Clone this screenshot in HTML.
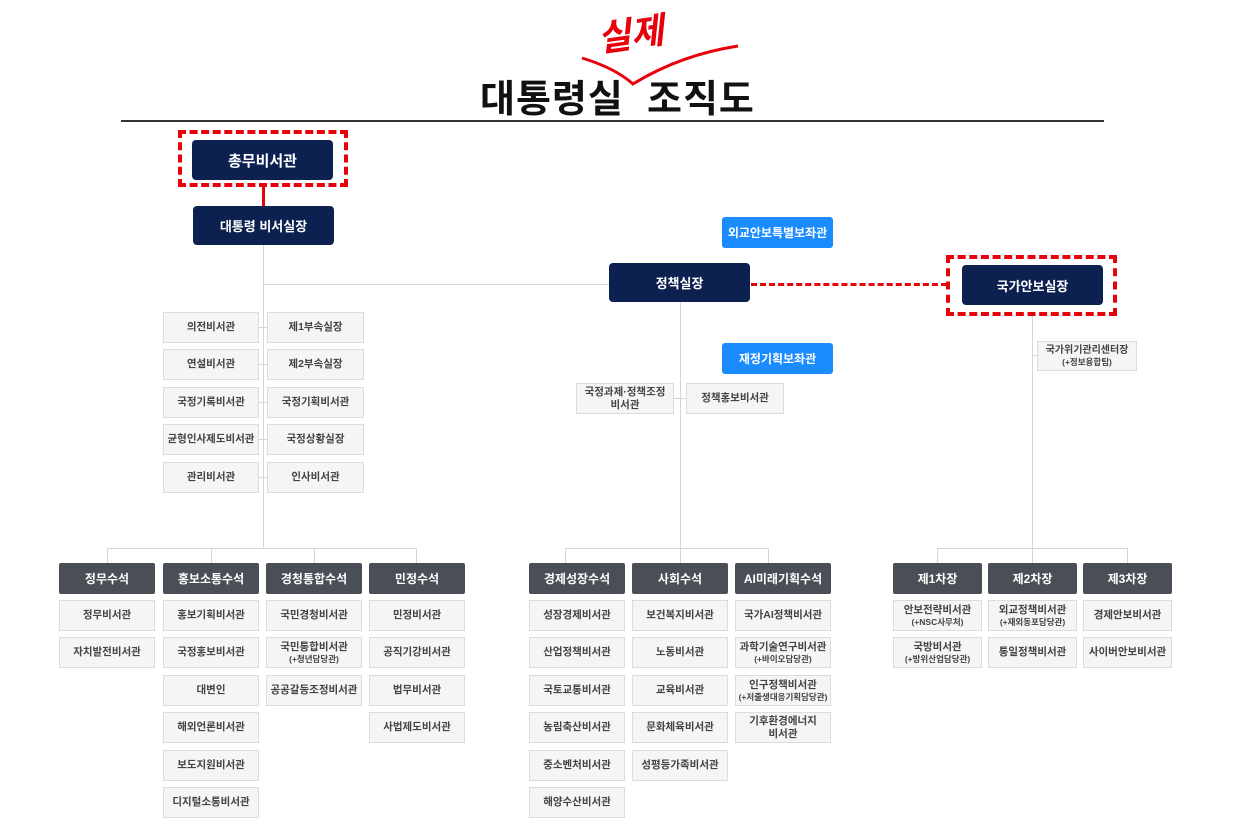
<!DOCTYPE html>
<html><head><meta charset="utf-8">
<style>
body{margin:0;width:1233px;height:827px;background:#fff;position:relative;overflow:hidden;font-family:"Liberation Sans","Noto Sans CJK KR",sans-serif}
div{position:absolute;box-sizing:border-box}
.n{background:#0d2150;color:#fff;font-weight:bold;border-radius:4px;display:flex;align-items:center;justify-content:center;font-size:13px}
.b{background:#1a8cff;color:#fff;font-weight:bold;border-radius:3px;display:flex;align-items:center;justify-content:center;font-size:12px}
.h{background:#4a4f57;color:#fff;font-weight:bold;border-radius:2px;display:flex;align-items:center;justify-content:center;font-size:12px;height:31px}
.c{background:#f5f5f5;border:1px solid #dcdcdc;color:#444;font-weight:bold;display:flex;align-items:center;justify-content:center;text-align:center;font-size:10.5px;line-height:13px;height:31px}
.c span{display:block}
.c small{font-size:8.5px;display:block;line-height:11px}
.l{background:#d6d6d6}
.rd{border:4px dashed #e8000b}
</style></head><body>
<!-- title -->
<div style="left:480px;top:68px;font-size:38px;font-weight:bold;color:#111;letter-spacing:1px">대통령실</div>
<div style="left:647px;top:68px;font-size:38px;font-weight:bold;color:#111;letter-spacing:1px">조직도</div>
<div style="left:597px;top:6px;font-size:36px;font-weight:bold;font-style:italic;color:#e8000b;transform:rotate(-8deg)">실제</div>
<svg style="position:absolute;left:0;top:0" width="1233" height="130"><path d="M582 58 Q615 68 633 84 Q680 55 738 46" stroke="#e8000b" stroke-width="3" fill="none"/></svg>
<div style="left:121px;top:120px;width:983px;height:2px;background:#333"></div>

<!-- lines -->
<div class="l" style="left:263px;top:245px;width:1px;height:304px"></div>
<div style="left:262px;top:186px;width:3px;height:20px;background:#e8000b"></div>
<div class="l" style="left:263px;top:284px;width:346px;height:1px"></div>
<div style="left:751px;top:283px;width:196px;height:0;border-top:3px dashed #e8000b"></div>
<div class="l" style="left:680px;top:302px;width:1px;height:246px"></div>
<div class="l" style="left:1032px;top:316px;width:1px;height:232px"></div>
<div class="l" style="left:1032px;top:355px;width:6px;height:1px"></div>
<div class="l" style="left:674px;top:398px;width:12px;height:1px"></div>
<div class="l" style="left:259px;top:327px;width:8px;height:1px"></div>
<div class="l" style="left:259px;top:364px;width:8px;height:1px"></div>
<div class="l" style="left:259px;top:402px;width:8px;height:1px"></div>
<div class="l" style="left:259px;top:439px;width:8px;height:1px"></div>
<div class="l" style="left:259px;top:477px;width:8px;height:1px"></div>
<!-- bottom branches -->
<div class="l" style="left:107px;top:548px;width:310px;height:1px"></div>
<div class="l" style="left:107px;top:548px;width:1px;height:15px"></div>
<div class="l" style="left:211px;top:548px;width:1px;height:15px"></div>
<div class="l" style="left:314px;top:548px;width:1px;height:15px"></div>
<div class="l" style="left:416px;top:548px;width:1px;height:15px"></div>
<div class="l" style="left:565px;top:548px;width:204px;height:1px"></div>
<div class="l" style="left:565px;top:548px;width:1px;height:15px"></div>
<div class="l" style="left:680px;top:548px;width:1px;height:15px"></div>
<div class="l" style="left:768px;top:548px;width:1px;height:15px"></div>
<div class="l" style="left:937px;top:548px;width:191px;height:1px"></div>
<div class="l" style="left:937px;top:548px;width:1px;height:15px"></div>
<div class="l" style="left:1032px;top:548px;width:1px;height:15px"></div>
<div class="l" style="left:1127px;top:548px;width:1px;height:15px"></div>

<!-- top nodes -->
<div class="rd" style="left:178px;top:130px;width:170px;height:57px"></div>
<div class="n" style="left:192px;top:140px;width:141px;height:40px;font-size:15px">총무비서관</div>
<div class="n" style="left:193px;top:206px;width:141px;height:39px">대통령 비서실장</div>
<div class="n" style="left:609px;top:263px;width:141px;height:39px">정책실장</div>
<div class="rd" style="left:946px;top:255px;width:171px;height:61px"></div>
<div class="n" style="left:962px;top:265px;width:141px;height:40px">국가안보실장</div>
<div class="b" style="left:722px;top:217px;width:111px;height:31px">외교안보특별보좌관</div>
<div class="b" style="left:722px;top:343px;width:111px;height:31px">재정기획보좌관</div>
<div class="c" style="left:576px;top:383px;width:98px;height:31px"><span>국정과제·정책조정<br>비서관</span></div>
<div class="c" style="left:686px;top:383px;width:98px;height:31px">정책홍보비서관</div>
<div class="c" style="left:1037px;top:341px;width:100px;height:30px;font-size:10px"><span>국가위기관리센터장<small>(+정보융합팀)</small></span></div>

<!-- left grid -->
<div class="c" style="left:163px;top:312px;width:96px">의전비서관</div>
<div class="c" style="left:267px;top:312px;width:97px">제1부속실장</div>
<div class="c" style="left:163px;top:349px;width:96px">연설비서관</div>
<div class="c" style="left:267px;top:349px;width:97px">제2부속실장</div>
<div class="c" style="left:163px;top:387px;width:96px">국정기록비서관</div>
<div class="c" style="left:267px;top:387px;width:97px">국정기획비서관</div>
<div class="c" style="left:163px;top:424px;width:96px">균형인사제도비서관</div>
<div class="c" style="left:267px;top:424px;width:97px">국정상황실장</div>
<div class="c" style="left:163px;top:462px;width:96px">관리비서관</div>
<div class="c" style="left:267px;top:462px;width:97px">인사비서관</div>

<!-- headers -->
<div class="h" style="left:59px;top:563px;width:96px">정무수석</div>
<div class="h" style="left:163px;top:563px;width:96px">홍보소통수석</div>
<div class="h" style="left:266px;top:563px;width:96px">경청통합수석</div>
<div class="h" style="left:369px;top:563px;width:96px">민정수석</div>
<div class="h" style="left:529px;top:563px;width:96px">경제성장수석</div>
<div class="h" style="left:632px;top:563px;width:96px">사회수석</div>
<div class="h" style="left:735px;top:563px;width:96px">AI미래기획수석</div>
<div class="h" style="left:893px;top:563px;width:89px">제1차장</div>
<div class="h" style="left:988px;top:563px;width:89px">제2차장</div>
<div class="h" style="left:1083px;top:563px;width:89px">제3차장</div>

<!-- col 1 -->
<div class="c" style="left:59px;top:600px;width:96px">정무비서관</div>
<div class="c" style="left:59px;top:637px;width:96px">자치발전비서관</div>
<!-- col 2 -->
<div class="c" style="left:163px;top:600px;width:96px">홍보기획비서관</div>
<div class="c" style="left:163px;top:637px;width:96px">국정홍보비서관</div>
<div class="c" style="left:163px;top:675px;width:96px">대변인</div>
<div class="c" style="left:163px;top:712px;width:96px">해외언론비서관</div>
<div class="c" style="left:163px;top:750px;width:96px">보도지원비서관</div>
<div class="c" style="left:163px;top:787px;width:96px">디지털소통비서관</div>
<!-- col 3 -->
<div class="c" style="left:266px;top:600px;width:96px">국민경청비서관</div>
<div class="c" style="left:266px;top:637px;width:96px"><span>국민통합비서관<small>(+청년담당관)</small></span></div>
<div class="c" style="left:266px;top:675px;width:96px">공공갈등조정비서관</div>
<!-- col 4 -->
<div class="c" style="left:369px;top:600px;width:96px">민정비서관</div>
<div class="c" style="left:369px;top:637px;width:96px">공직기강비서관</div>
<div class="c" style="left:369px;top:675px;width:96px">법무비서관</div>
<div class="c" style="left:369px;top:712px;width:96px">사법제도비서관</div>
<!-- col 5 -->
<div class="c" style="left:529px;top:600px;width:96px">성장경제비서관</div>
<div class="c" style="left:529px;top:637px;width:96px">산업정책비서관</div>
<div class="c" style="left:529px;top:675px;width:96px">국토교통비서관</div>
<div class="c" style="left:529px;top:712px;width:96px">농림축산비서관</div>
<div class="c" style="left:529px;top:750px;width:96px">중소벤처비서관</div>
<div class="c" style="left:529px;top:787px;width:96px">해양수산비서관</div>
<!-- col 6 -->
<div class="c" style="left:632px;top:600px;width:96px">보건복지비서관</div>
<div class="c" style="left:632px;top:637px;width:96px">노동비서관</div>
<div class="c" style="left:632px;top:675px;width:96px">교육비서관</div>
<div class="c" style="left:632px;top:712px;width:96px">문화체육비서관</div>
<div class="c" style="left:632px;top:750px;width:96px">성평등가족비서관</div>
<!-- col 7 -->
<div class="c" style="left:735px;top:600px;width:96px">국가AI정책비서관</div>
<div class="c" style="left:735px;top:637px;width:96px"><span>과학기술연구비서관<small>(+바이오담당관)</small></span></div>
<div class="c" style="left:735px;top:675px;width:96px"><span>인구정책비서관<small>(+저출생대응기획담당관)</small></span></div>
<div class="c" style="left:735px;top:712px;width:96px"><span>기후환경에너지<br>비서관</span></div>
<!-- security -->
<div class="c" style="left:893px;top:600px;width:89px"><span>안보전략비서관<small>(+NSC사무처)</small></span></div>
<div class="c" style="left:893px;top:637px;width:89px"><span>국방비서관<small>(+방위산업담당관)</small></span></div>
<div class="c" style="left:988px;top:600px;width:89px"><span>외교정책비서관<small>(+재외동포담당관)</small></span></div>
<div class="c" style="left:988px;top:637px;width:89px">통일정책비서관</div>
<div class="c" style="left:1083px;top:600px;width:89px">경제안보비서관</div>
<div class="c" style="left:1083px;top:637px;width:89px">사이버안보비서관</div>
</body></html>
